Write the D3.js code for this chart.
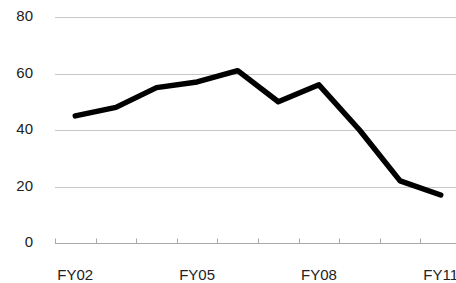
<!DOCTYPE html>
<html lang="en">
<head>
<meta charset="UTF-8">
<title>FY line</title>
<style>
    body { margin: 0; background: #fff; }
    svg { display: block; }
    text { font-family: "Liberation Sans", Arial, sans-serif; font-size: 15px; fill: #222; }
</style>
</head>
<body>
<svg class="chart"></svg>
<script src="https://d3js.org/d3.v7.min.js"></script>
<script>

const years = ["FY02", "FY03", "FY04", "FY05", "FY06", "FY07", "FY08", "FY09", "FY10", "FY11"];
const values = [45, 48, 55, 57, 61, 50, 56, 40, 22, 17];
const yTicks = [0, 20, 40, 60, 80];
const shownLabels = ["FY02", "FY05", "FY08", "FY11"];

const width = 456, height = 283;

const svg = d3.select("svg")
    .attr("width", width)
    .attr("height", height);

const x = d3.scaleBand()
    .domain(years)
    .range([55, 461]);

const y = d3.scaleLinear()
    .domain([0, 80])
    .range([243, 17]);

// gridlines
svg.append("g")
    .selectAll("line")
    .data(yTicks.filter(d => d > 0))
    .join("line")
    .attr("x1", 55)
    .attr("x2", width)
    .attr("y1", d => Math.round(y(d)) + 0.5)
    .attr("y2", d => Math.round(y(d)) + 0.5)
    .attr("stroke", "#c8c8c8")
    .attr("stroke-width", 1);

// y labels
svg.append("g")
    .selectAll("text")
    .data(yTicks)
    .join("text")
    .attr("x", 33)
    .attr("y", d => y(d) + 0.5)
    .attr("text-anchor", "end")
    .attr("dominant-baseline", "middle")
    .text(d => d);

// x axis line + ticks
const base = Math.round(y(0)) + 0.5;
svg.append("line")
    .attr("x1", 55)
    .attr("x2", width)
    .attr("y1", base)
    .attr("y2", base)
    .attr("stroke", "#aaa");

const edges = years.map(d => x(d)).concat([x.range()[1]]);
svg.append("g")
    .selectAll("line")
    .data(edges)
    .join("line")
    .attr("x1", d => Math.round(d) + 0.5)
    .attr("x2", d => Math.round(d) + 0.5)
    .attr("y1", base)
    .attr("y2", base - 5)
    .attr("stroke", "#aaa");

// x labels
svg.append("g")
    .selectAll("text")
    .data(shownLabels)
    .join("text")
    .attr("x", d => x(d) + x.bandwidth() / 2)
    .attr("y", 280)
    .attr("text-anchor", "middle")
    .text(d => d);

// line
const line = d3.line()
    .x((d, i) => x(years[i]) + x.bandwidth() / 2)
    .y(d => y(d));

svg.append("path")
    .datum(values)
    .attr("d", line)
    .attr("fill", "none")
    .attr("stroke", "#000")
    .attr("stroke-width", 5.5)
    .attr("stroke-linejoin", "round")
    .attr("stroke-linecap", "round");

</script>
</body>
</html>
